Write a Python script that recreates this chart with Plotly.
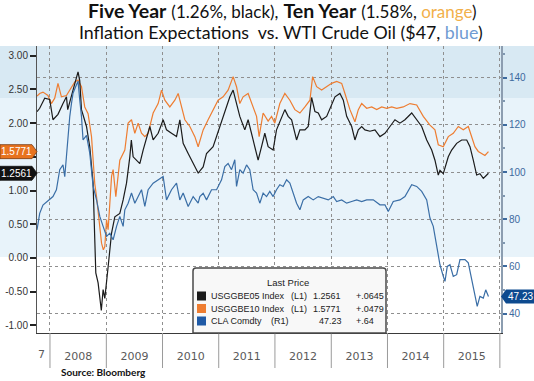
import plotly.graph_objects as go
import pandas as pd

# ---------------- data ----------------
# decimal years
t5 = [2007.769, 2007.817, 2007.906, 2007.995, 2008.053, 2008.142, 2008.231, 2008.292, 2008.315, 2008.351,
      2008.409, 2008.498, 2008.528, 2008.559, 2008.648, 2008.706, 2008.765, 2008.795, 2008.813, 2008.854,
      2008.897, 2008.911, 2008.943, 2008.973, 2009.032, 2009.093, 2009.151, 2009.240, 2009.299, 2009.359,
      2009.418, 2009.445, 2009.477, 2009.537, 2009.596, 2009.655, 2009.774, 2009.833, 2009.922, 2010.011,
      2010.071, 2010.160, 2010.249, 2010.308, 2010.367, 2010.456, 2010.545, 2010.634, 2010.723, 2010.783,
      2010.900, 2011.020, 2011.109, 2011.198, 2011.256, 2011.317, 2011.375, 2011.464, 2011.523, 2011.612,
      2011.701, 2011.762, 2011.820, 2011.879, 2011.968, 2012.028, 2012.118, 2012.176, 2012.235, 2012.296,
      2012.384, 2012.443, 2012.532, 2012.591, 2012.651, 2012.710, 2012.769, 2012.829, 2012.918, 2013.007,
      2013.066, 2013.154, 2013.214, 2013.274, 2013.363, 2013.421, 2013.481, 2013.541, 2013.599, 2013.688,
      2013.777, 2013.866, 2013.955, 2014.044, 2014.133, 2014.222, 2014.311, 2014.431, 2014.520, 2014.609,
      2014.698, 2014.787, 2014.845, 2014.904, 2014.934, 2014.993, 2015.082, 2015.142, 2015.231, 2015.320,
      2015.410, 2015.468, 2015.527, 2015.587, 2015.645, 2015.705, 2015.753, 2015.797]
be5 = [2.17, 2.22, 2.37, 2.35, 2.05, 2.13, 2.29, 2.39, 2.20, 2.32,
       2.49, 2.76, 2.63, 2.20, 1.95, 1.65, 1.11, 0.27, -0.22, -0.37,
       -0.72, -0.78, -0.47, -0.60, -0.13, 0.37, 0.61, 0.66, 0.86, 1.11,
       1.50, 1.75, 1.50, 1.45, 1.40, 1.60, 1.95, 1.75, 1.85, 2.05,
       1.90, 1.85, 1.80, 2.05, 1.70, 1.55, 1.40, 1.26, 1.35, 1.55,
       1.65, 1.95, 2.15, 2.39, 2.49, 2.29, 2.10, 1.90, 2.05, 1.75,
       1.45, 1.65, 1.85, 1.65, 1.60, 1.90, 2.10, 2.20, 2.10, 2.05,
       1.75, 1.90, 1.90, 1.95, 2.38, 2.17, 2.15, 2.05, 2.10, 2.29,
       2.39, 2.44, 2.34, 2.10, 1.95, 1.75, 1.90, 1.95, 1.90, 1.88,
       1.90, 1.80, 1.85, 1.95, 2.05, 2.00, 2.05, 2.15, 2.05, 1.95,
       1.75, 1.60, 1.45, 1.23, 1.30, 1.25, 1.50, 1.60, 1.70, 1.75,
       1.75, 1.65, 1.45, 1.23, 1.25, 1.18, 1.22, 1.2561]

t10 = [2007.769, 2007.817, 2007.875, 2007.964, 2008.025, 2008.084, 2008.142, 2008.203, 2008.292, 2008.381,
       2008.440, 2008.498, 2008.559, 2008.617, 2008.676, 2008.737, 2008.765, 2008.795, 2008.826, 2008.884,
       2008.915, 2008.947, 2008.973, 2009.004, 2009.032, 2009.093, 2009.121, 2009.169, 2009.240, 2009.329,
       2009.388, 2009.448, 2009.507, 2009.566, 2009.626, 2009.685, 2009.744, 2009.833, 2009.922, 2009.982,
       2010.041, 2010.130, 2010.219, 2010.278, 2010.338, 2010.397, 2010.486, 2010.575, 2010.634, 2010.723,
       2010.811, 2010.900, 2010.989, 2011.078, 2011.167, 2011.256, 2011.317, 2011.375, 2011.434, 2011.523,
       2011.584, 2011.673, 2011.719, 2011.790, 2011.879, 2011.940, 2011.998, 2012.087, 2012.176, 2012.265,
       2012.354, 2012.443, 2012.532, 2012.621, 2012.669, 2012.740, 2012.829, 2012.918, 2013.007, 2013.096,
       2013.185, 2013.243, 2013.332, 2013.421, 2013.481, 2013.541, 2013.630, 2013.719, 2013.808, 2013.897,
       2013.986, 2014.075, 2014.164, 2014.281, 2014.400, 2014.520, 2014.637, 2014.756, 2014.845, 2014.904,
       2014.993, 2015.082, 2015.171, 2015.260, 2015.349, 2015.438, 2015.499, 2015.556, 2015.616, 2015.682,
       2015.734, 2015.797]
be10 = [2.40, 2.44, 2.46, 2.41, 2.29, 2.37, 2.59, 2.39, 2.41, 2.54,
        2.61, 2.64, 2.54, 2.24, 2.14, 1.80, 1.45, 1.10, 0.91, 0.47,
        0.22, 0.12, 0.17, 0.57, 0.42, 1.21, 1.31, 0.91, 1.45, 1.60,
        2.00, 2.05, 1.85, 2.00, 1.85, 1.80, 1.85, 2.15, 2.29, 2.49,
        2.34, 2.24, 2.34, 2.44, 2.24, 2.05, 1.95, 1.80, 1.65, 1.90,
        2.05, 2.20, 2.34, 2.39, 2.49, 2.69, 2.54, 2.29, 2.39, 2.44,
        2.29, 2.10, 1.80, 2.15, 2.03, 2.10, 2.00, 2.29, 2.44, 2.34,
        2.20, 2.15, 2.24, 2.34, 2.69, 2.54, 2.49, 2.54, 2.59, 2.62,
        2.59, 2.44, 2.20, 2.02, 2.20, 2.29, 2.22, 2.24, 2.20, 2.24,
        2.22, 2.24, 2.22, 2.24, 2.29, 2.27, 2.10, 1.97, 1.90, 1.68,
        1.65, 1.80, 1.85, 1.95, 1.90, 1.95, 1.80, 1.65, 1.58, 1.55,
        1.52, 1.5771]

toil = [2007.769, 2007.799, 2007.817, 2007.875, 2007.964, 2008.053, 2008.114, 2008.173, 2008.231, 2008.262,
        2008.292, 2008.320, 2008.351, 2008.381, 2008.409, 2008.457, 2008.498, 2008.528, 2008.559, 2008.587,
        2008.648, 2008.706, 2008.737, 2008.765, 2008.826, 2008.884, 2008.943, 2009.004, 2009.062, 2009.121,
        2009.182, 2009.240, 2009.299, 2009.329, 2009.388, 2009.448, 2009.507, 2009.566, 2009.626, 2009.685,
        2009.744, 2009.833, 2009.922, 2010.011, 2010.071, 2010.160, 2010.249, 2010.308, 2010.367, 2010.456,
        2010.545, 2010.634, 2010.664, 2010.723, 2010.783, 2010.872, 2010.961, 2011.050, 2011.109, 2011.167,
        2011.228, 2011.286, 2011.317, 2011.375, 2011.434, 2011.495, 2011.553, 2011.612, 2011.673, 2011.731,
        2011.790, 2011.851, 2011.909, 2011.968, 2012.028, 2012.087, 2012.146, 2012.207, 2012.265, 2012.324,
        2012.384, 2012.443, 2012.502, 2012.591, 2012.680, 2012.769, 2012.858, 2012.947, 2013.036, 2013.096,
        2013.185, 2013.274, 2013.363, 2013.452, 2013.541, 2013.630, 2013.747, 2013.866, 2013.955, 2014.014,
        2014.103, 2014.222, 2014.311, 2014.431, 2014.520, 2014.609, 2014.698, 2014.756, 2014.815, 2014.876,
        2014.934, 2014.993, 2015.023, 2015.064, 2015.112, 2015.171, 2015.231, 2015.290, 2015.379, 2015.438,
        2015.499, 2015.556, 2015.597, 2015.645, 2015.705, 2015.748, 2015.797]
oil = [75.5, 80.0, 82.5, 86.0, 88.0, 89.6, 92.5, 101.0, 103.0, 98.0,
       106.6, 115.0, 123.5, 129.0, 133.4, 136.2, 138.5, 130.6, 123.5, 113.6,
       115.5, 108.0, 101.0, 94.0, 88.2, 81.2, 77.0, 72.7, 74.1, 71.3,
       77.0, 81.2, 77.0, 84.0, 86.8, 91.1, 86.8, 89.6, 92.5, 85.4,
       92.5, 95.3, 96.7, 98.1, 88.2, 92.5, 95.3, 88.2, 91.1, 85.4,
       89.6, 86.8, 89.6, 91.0, 88.2, 92.5, 92.5, 96.7, 102.3, 103.6,
       101.0, 105.2, 93.9, 101.0, 99.5, 103.0, 101.0, 92.5, 91.1, 86.8,
       91.1, 89.6, 91.8, 89.6, 92.5, 94.6, 93.9, 96.7, 95.3, 91.1,
       86.8, 84.0, 88.2, 89.6, 88.2, 89.6, 88.9, 88.2, 89.6, 87.5,
       88.2, 86.8, 87.5, 88.2, 87.5, 88.2, 88.2, 86.1, 86.1, 83.3,
       87.5, 88.2, 89.6, 94.6, 93.9, 91.8, 88.2, 80.5, 77.0, 68.5,
       60.7, 55.8, 53.7, 60.0, 60.7, 55.8, 56.5, 62.9, 62.9, 61.5,
       54.4, 48.8, 43.1, 47.3, 46.6, 50.1, 47.23]

year_ticks = [2008, 2009, 2010, 2011, 2012, 2013, 2014, 2015, 2016]
left_ticks = [-1.0, -0.5, 0.0, 0.5, 1.0, 1.5, 2.0, 2.5, 3.0]
left_labels = ["-1.00", "-0.50", "0.00", "0.50", "1.00", "", "2.00", "2.50", "3.00"]  # 1.50 hidden by tag
right_ticks = [40, 60, 80, 100, 120, 140]

legend_names = ["USGGBE05 Index", "USGGBE10 Index", "CLA Comdty"]
legend_axis = ["(L1)", "(L1)", "(R1)"]
legend_last = ["1.2561", "1.5771", "47.23"]
legend_chg = ["+.0645", "+.0479", "+.64"]

C5, C10, COIL = "#1b1b1b", "#ee7d31", "#3a6ea6"


def to_date(v):
    y = int(v)
    a = pd.Timestamp(year=y, month=1, day=1)
    b = pd.Timestamp(year=y + 1, month=1, day=1)
    return a + (b - a) * (v - y)


# ---------------- geometry helpers (pixels -> paper) ----------------
W, H = 534, 381
L, R, T, B = 37, 33, 46, 48
PW, PH = W - L - R, H - T - B


def px(x):
    return (x - L) / PW


def py(y):
    return (H - B - y) / PH


fig = go.Figure()
fig.add_trace(go.Scatter(x=[to_date(v) for v in toil], y=oil, mode="lines", yaxis="y2",
                         line=dict(color=COIL, width=1.2), showlegend=False, hoverinfo="skip"))
fig.add_trace(go.Scatter(x=[to_date(v) for v in t10], y=be10, mode="lines",
                         line=dict(color=C10, width=1.2), showlegend=False, hoverinfo="skip"))
fig.add_trace(go.Scatter(x=[to_date(v) for v in t5], y=be5, mode="lines",
                         line=dict(color=C5, width=1.2), showlegend=False, hoverinfo="skip"))

shapes = []
# background bands
shapes.append(dict(type="rect", xref="paper", yref="paper", x0=px(0), x1=px(W), y0=py(257), y1=py(98),
                   fillcolor="#e8f3fa", line_width=0, layer="below"))
shapes.append(dict(type="rect", xref="paper", yref="paper", x0=px(0), x1=px(W), y0=py(98), y1=py(46),
                   fillcolor="#d8e9f3", line_width=0, layer="below"))
# long year ticks below the axis
for yv in year_ticks:
    d = pd.Timestamp(year=yv, month=1, day=1)
    shapes.append(dict(type="line", xref="x", yref="paper", x0=d, x1=d, y0=0, y1=py(368),
                       line=dict(color="#9a9a9a", width=1)))

# legend box (rounded)
bx0, bx1, by0, by1 = px(193), px(386), py(333), py(268)
rx, ry = 3 / PW, 3 / PH
path = (f"M {bx0+rx},{by1} L {bx1-rx},{by1} Q {bx1},{by1} {bx1},{by1-ry} L {bx1},{by0} "
        f"L {bx0},{by0} L {bx0},{by1-ry} Q {bx0},{by1} {bx0+rx},{by1} Z")
shapes.append(dict(type="path", xref="paper", yref="paper", path=path,
                   fillcolor="#f8f8f8", line=dict(color="#4a4a4a", width=1.5)))
row_y = [296, 308.5, 321]
for i, c in enumerate([C5, C10, "#1f5aa6"]):
    shapes.append(dict(type="rect", xref="paper", yref="paper", x0=px(197), x1=px(206),
                       y0=py(row_y[i] + 4.5), y1=py(row_y[i] - 4.5), fillcolor=c, line_width=0))

annotations = []
lf = dict(family="Liberation Sans, Arial, sans-serif", size=9, color="#222")
annotations.append(dict(xref="paper", yref="paper", x=px(288), y=py(282), text="Last Price",
                        showarrow=False, font=dict(lf, size=9.5), xanchor="center", yanchor="middle"))
for i in range(3):
    annotations.append(dict(xref="paper", yref="paper", x=px(209), y=py(row_y[i]), text=legend_names[i],
                            showarrow=False, font=lf, xanchor="left", yanchor="middle"))
    annotations.append(dict(xref="paper", yref="paper", x=px(289 if i < 2 else 269), y=py(row_y[i]),
                            text=legend_axis[i], showarrow=False, font=lf, xanchor="left", yanchor="middle"))
    if i < 2:
        annotations.append(dict(xref="paper", yref="paper", x=px(343), y=py(row_y[i]), text=legend_last[i],
                                showarrow=False, font=lf, xanchor="right", yanchor="middle"))
    else:
        annotations.append(dict(xref="paper", yref="paper", x=px(330.5), y=py(row_y[i]), text=legend_last[i],
                                showarrow=False, font=lf, xanchor="center", yanchor="middle"))
    annotations.append(dict(xref="paper", yref="paper", x=px(354), y=py(row_y[i]), text=legend_chg[i],
                            showarrow=False, font=lf, xanchor="left", yanchor="middle"))

# value tags on the axes
tf = dict(family="Liberation Sans, Arial, sans-serif", size=10, color="white")
dl = 7 / 67.5
for val, col, txt in [(be10[-1], "#e8731f", legend_last[1]), (be5[-1], "#111111", legend_last[0])]:
    p = (f"M {px(0)},{val+dl} L {px(32)},{val+dl} L {px(37)},{val} L {px(32)},{val-dl} "
         f"L {px(0)},{val-dl} Z")
    shapes.append(dict(type="path", xref="paper", yref="y", path=p, fillcolor=col,
                       line=dict(color="#7a3a10" if col != "#111111" else "#111", width=0.8)))
    annotations.append(dict(xref="paper", yref="y", x=px(16), y=val, text=txt, showarrow=False,
                            font=tf, xanchor="center", yanchor="middle"))
dr = 7 / 2.363
v = oil[-1]
p = (f"M {px(501)},{v} L {px(506)},{v+dr} L {px(534)},{v+dr} L {px(534)},{v-dr} L {px(506)},{v-dr} Z")
shapes.append(dict(type="path", xref="paper", yref="y2", path=p, fillcolor="#0d4a8f", line_width=0))
annotations.append(dict(xref="paper", yref="y2", x=px(520), y=v, text=legend_last[2], showarrow=False,
                        font=tf, xanchor="center", yanchor="middle"))

# clipped label of 2007
axf = dict(family="DejaVu Sans, sans-serif", size=11, color="#5a5a5a")
annotations.append(dict(xref="paper", yref="paper", x=px(41), y=py(354), text="7", showarrow=False,
                        font=axf, xanchor="center", yanchor="middle"))
# source
annotations.append(dict(xref="paper", yref="paper", x=px(59), y=py(372), text="<b>Source: Bloomberg</b>",
                        showarrow=False, font=dict(family="Lato, sans-serif", size=10, color="#111"),
                        xanchor="left", yanchor="middle"))
# titles
annotations.append(dict(
    xref="paper", yref="paper", x=px(282.5), y=py(11), showarrow=False, xanchor="center", yanchor="middle",
    text=("<b>Five Year</b> <span style='font-size:17px'>(1.26%, black),</span> <b>Ten Year</b> "
          "<span style='font-size:17px'>(1.58%, <span style='color:#f2b04a'>orange</span>)</span>"),
    font=dict(family="Lato, sans-serif", size=19.5, color="#111")))
annotations.append(dict(
    xref="paper", yref="paper", x=px(281), y=py(32), showarrow=False, xanchor="center", yanchor="middle",
    text="Inflation Expectations  vs. WTI Crude Oil ($47, <span style='color:#6f9bd2'>blue</span>)",
    font=dict(family="Lato, sans-serif", size=17.8, color="#111")))

fig.update_layout(
    width=W, height=H, margin=dict(l=L, r=R, t=T, b=B, autoexpand=False),
    paper_bgcolor="white", plot_bgcolor="rgba(0,0,0,0)",
    showlegend=False, shapes=shapes, annotations=annotations,
    xaxis=dict(type="date", range=[to_date(2007.769), to_date(2016.02)],
               tick0="2008-01-01", dtick="M12", tickformat="%Y", ticklabelmode="period",
               ticks="", showgrid=True, gridcolor="#8f8f8f", griddash="dot", gridwidth=1,
               showline=True, linecolor="#3a3a3a", linewidth=1, zeroline=False,
               tickfont=axf, ticklabelstandoff=13, automargin=False),
    yaxis=dict(range=[-1.113, 3.144], tickvals=left_ticks, ticktext=left_labels, showgrid=False,
               zeroline=False, showline=True, linecolor="#555", linewidth=1, automargin=False,
               ticks="outside", ticklen=6, tickwidth=2, tickcolor="#222",
               tickfont=dict(family="Liberation Sans, Arial, sans-serif", size=10, color="#333")),
    yaxis2=dict(range=[31.8, 153.4], tickvals=right_ticks, overlaying="y", side="right",
                showgrid=True, gridcolor="#8f8f8f", griddash="dot", gridwidth=1, zeroline=False,
                showline=True, linecolor="#8c9db0", linewidth=2, automargin=False,
                ticks="outside", ticklen=4, tickwidth=2, tickcolor="#3d6a9e",
                minor=dict(tickvals=[50, 70, 90, 110, 130, 150], ticks="outside", ticklen=2,
                           tickcolor="#7f97b0"),
                tickfont=dict(family="Liberation Sans, Arial, sans-serif", size=10, color="#3d6a9e")),
)

fig.write_html("out.html", config={"displayModeBar": False},
               post_script="document.body.style.margin='0';")
